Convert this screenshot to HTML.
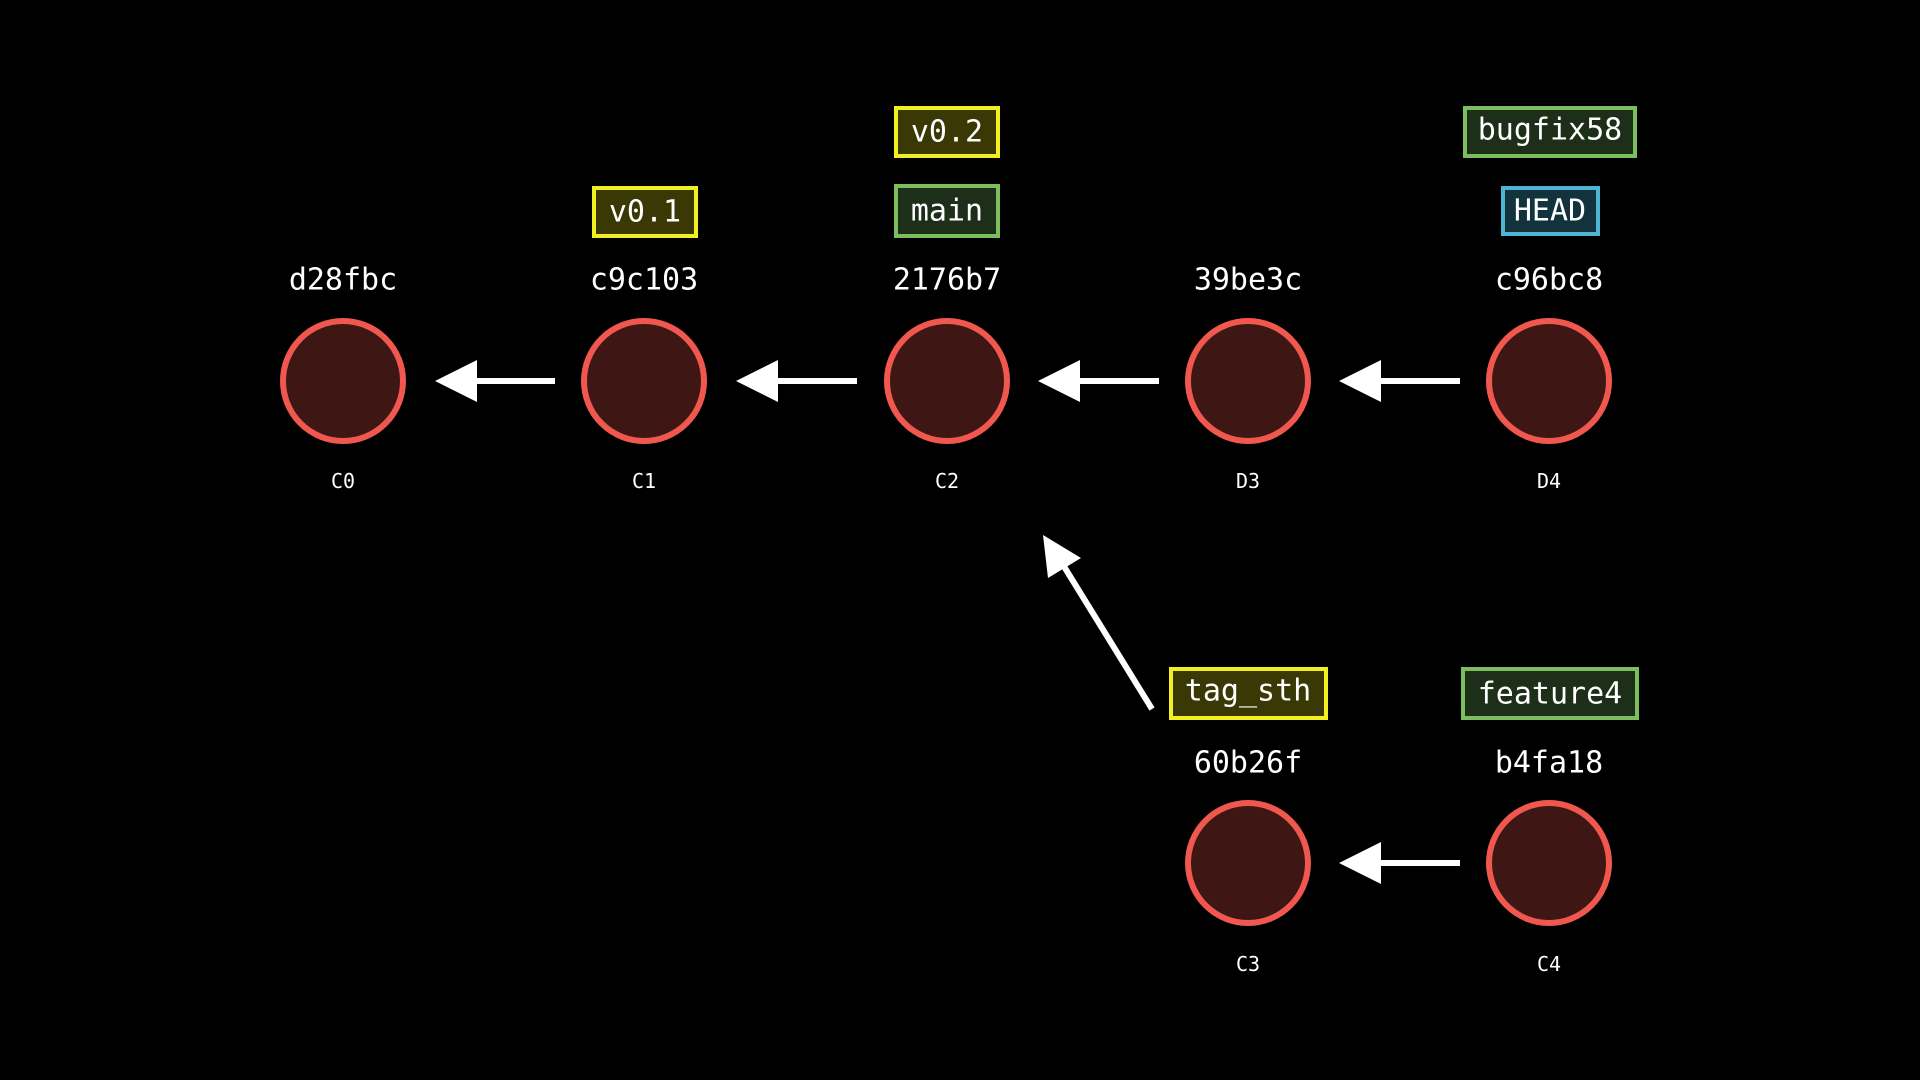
<!DOCTYPE html>
<html><head><meta charset="utf-8"><style>
html,body{margin:0;padding:0;background:#000;}
svg{display:block}
text{font-family:"DejaVu Sans Mono","Liberation Mono",monospace;fill:#fff;text-anchor:middle;dominant-baseline:central}
.h{font-size:30px}.c{font-size:20px}.t{font-size:30px}
.n{fill:#3e1715;stroke:#f0584f;stroke-width:6}
.y{fill:#3a3906;stroke:#f2f020;stroke-width:4}
.g{fill:#1d2e19;stroke:#7cbd5e;stroke-width:4}
.b{fill:#12323c;stroke:#4fb4d4;stroke-width:4}
.l{stroke:#fff;stroke-width:6}
</style></head><body>
<svg width="1920" height="1080" viewBox="0 0 1920 1080">
<rect width="1920" height="1080" fill="#000"/>
<g fill="#fff">
<line class="l" x1="555" y1="381" x2="470" y2="381"/><polygon points="435,381 477,360 477,402"/>
<line class="l" x1="857" y1="381" x2="772" y2="381"/><polygon points="736,381 778,360 778,402"/>
<line class="l" x1="1159" y1="381" x2="1074" y2="381"/><polygon points="1038,381 1080,360 1080,402"/>
<line class="l" x1="1460" y1="381" x2="1375" y2="381"/><polygon points="1339,381 1381,360 1381,402"/>
<line class="l" x1="1460" y1="863" x2="1375" y2="863"/><polygon points="1339,863 1381,842 1381,884"/>
<line class="l" x1="1152" y1="709" x2="1060" y2="560"/><polygon points="1043,535 1081,558 1048,578"/>
</g>
<circle class="n" cx="343" cy="381" r="60"/>
<circle class="n" cx="644" cy="381" r="60"/>
<circle class="n" cx="947" cy="381" r="60"/>
<circle class="n" cx="1248" cy="381" r="60"/>
<circle class="n" cx="1549" cy="381" r="60"/>
<circle class="n" cx="1248" cy="863" r="60"/>
<circle class="n" cx="1549" cy="863" r="60"/>
<text class="h" x="343" y="280">d28fbc</text>
<text class="h" x="644" y="280">c9c103</text>
<text class="h" x="947" y="280">2176b7</text>
<text class="h" x="1248" y="280">39be3c</text>
<text class="h" x="1549" y="280">c96bc8</text>
<text class="h" x="1248" y="763">60b26f</text>
<text class="h" x="1549" y="763">b4fa18</text>
<text class="c" x="343" y="481">C0</text>
<text class="c" x="644" y="481">C1</text>
<text class="c" x="947" y="481">C2</text>
<text class="c" x="1248" y="481">D3</text>
<text class="c" x="1549" y="481">D4</text>
<text class="c" x="1248" y="964">C3</text>
<text class="c" x="1549" y="964">C4</text>
<rect class="y" x="594" y="188" width="102" height="48"/><text class="t" x="645" y="212">v0.1</text>
<rect class="y" x="896" y="108" width="102" height="48"/><text class="t" x="947" y="132">v0.2</text>
<rect class="g" x="896" y="186" width="102" height="50"/><text class="t" x="947" y="211">main</text>
<rect class="g" x="1465" y="108" width="170" height="48"/><text class="t" x="1550" y="130">bugfix58</text>
<rect class="b" x="1503" y="188" width="95" height="46"/><text class="t" x="1550" y="211">HEAD</text>
<rect class="y" x="1171" y="669" width="155" height="49"/><text class="t" x="1248" y="691">tag_sth</text>
<rect class="g" x="1463" y="669" width="174" height="49"/><text class="t" x="1550" y="694">feature4</text>
</svg>
</body></html>
